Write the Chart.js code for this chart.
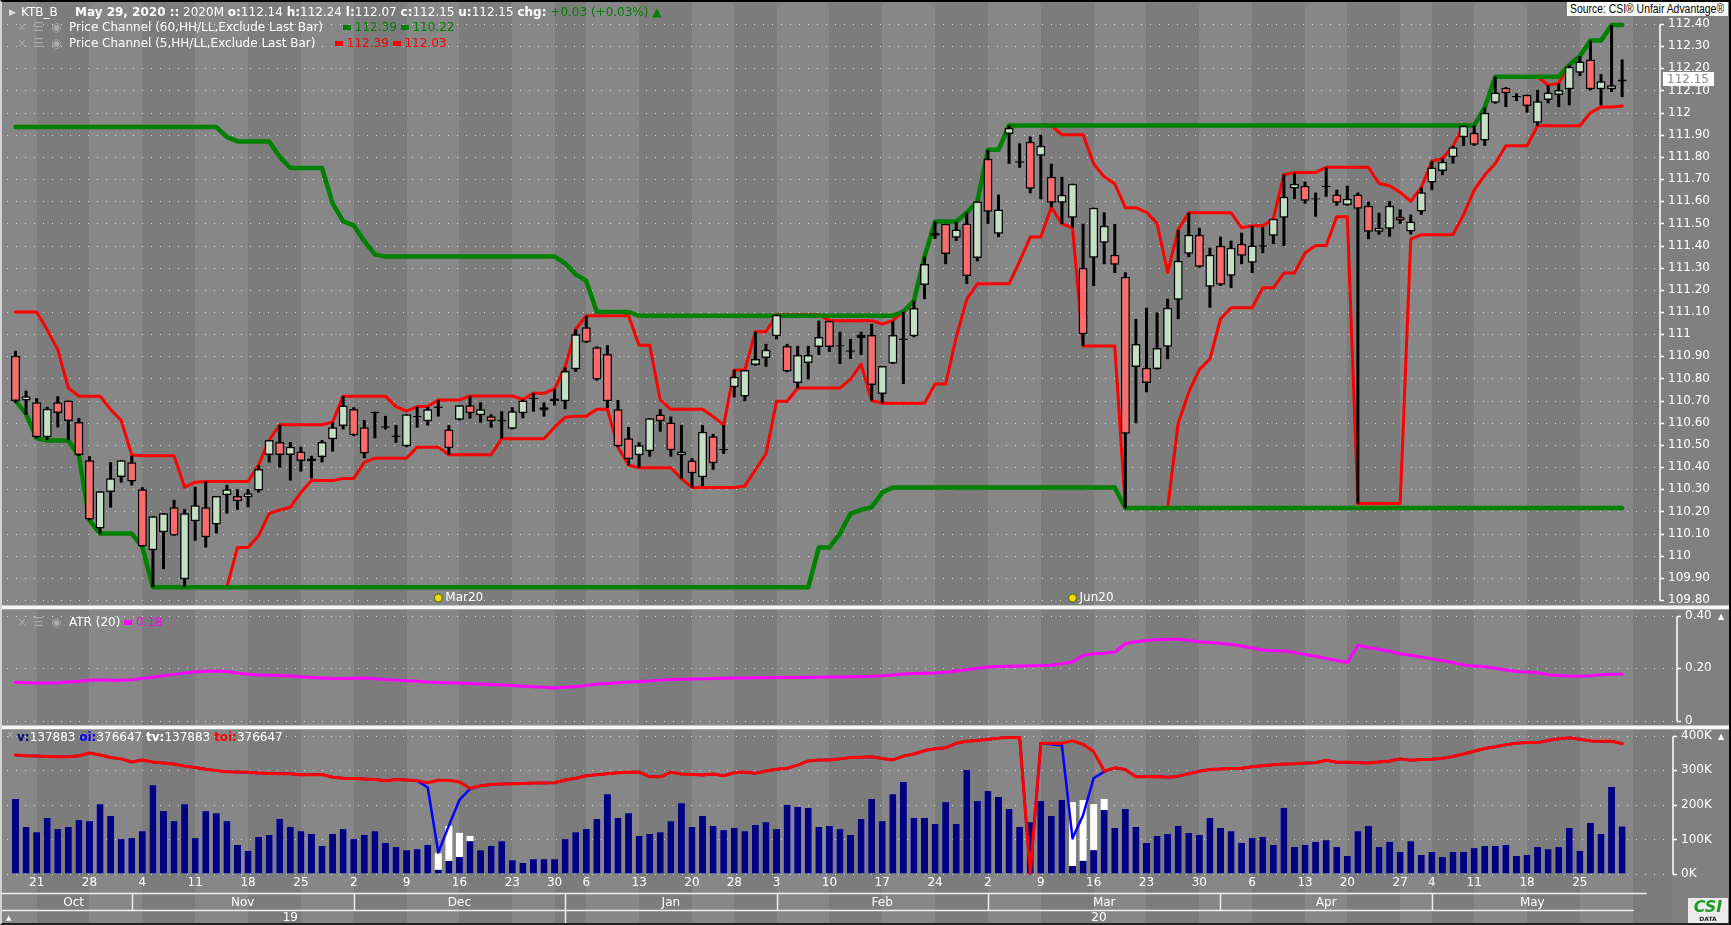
<!DOCTYPE html>
<html>
<head>
<meta charset="utf-8">
<title>KTB_B</title>
<script src="https://cdn.jsdelivr.net/npm/chart.js@4.4.1/dist/chart.umd.min.js"></script>
<style>
 html,body{margin:0;padding:0;background:#808080;}
 #wrap{position:relative;width:1731px;height:925px;overflow:hidden;background:#808080;font-family:'DejaVu Sans',sans-serif;font-size:12px;color:#fff;}
 canvas{position:absolute;left:0;display:block;}
 .sep{position:absolute;left:0;width:1731px;height:5px;background:#f7f7f7;border-top:1px solid #c4c4c4;border-bottom:1px solid #a4a4a4;box-sizing:border-box;}
 .t{position:absolute;white-space:pre;line-height:14px;}
 .ic{color:#a9a9a9;}
 .sw{display:inline-block;width:8px;height:5px;vertical-align:1px;}
 #frame{position:absolute;left:0;top:0;width:1731px;height:925px;box-sizing:border-box;border-top:2px solid #000;border-right:2px solid #000;border-bottom:2px solid #222;border-left:2px solid #d4d4d4;pointer-events:none;}
</style>
</head>
<body>
<div id="wrap">
 <canvas id="cMain" width="1731" height="605" style="top:0;width:1731px;height:605px"></canvas>
 <div class="sep" style="top:605px"></div>
 <canvas id="cAtr" width="1731" height="115" style="top:610px;width:1731px;height:115px"></canvas>
 <div class="sep" style="top:725px"></div>
 <canvas id="cVol" width="1731" height="195" style="top:730px;width:1731px;height:195px"></canvas>

 <div class="t" style="left:9px;top:5px;font-size:9px;color:#e0e0e0">▶</div>
 <div class="t" style="left:21px;top:5px">KTB_B</div>
 <div class="t" style="left:75px;top:5px"><b>May 29, 2020 ::</b> 2020M <b>o:</b>112.14 <b>h:</b>112.24 <b>l:</b>112.07 <b>c:</b>112.15 <b>u:</b>112.15 <b>chg:</b> <span style="color:#008000">+0.03 (+0.03%) ▲</span></div>

 <div class="t ic" style="left:17px;top:20px">×</div>
 <div class="t ic" style="left:33px;top:20px">☰</div>
 <div class="t ic" style="left:51px;top:20px">◉</div>
 <div class="t" style="left:69px;top:20px">Price Channel (60,HH/LL,Exclude Last Bar)</div>
 <div class="t" style="left:343px;top:20px;color:#008000"><span class="sw" style="background:#008000"></span> 112.39 <span class="sw" style="background:#008000"></span> 110.22</div>

 <div class="t ic" style="left:17px;top:36px">×</div>
 <div class="t ic" style="left:33px;top:36px">☰</div>
 <div class="t ic" style="left:51px;top:36px">◉</div>
 <div class="t" style="left:69px;top:36px">Price Channel (5,HH/LL,Exclude Last Bar)</div>
 <div class="t" style="left:335px;top:36px;color:#ff0000"><span class="sw" style="background:#ff0000"></span> 112.39 <span class="sw" style="background:#ff0000"></span> 112.03</div>

 <div class="t" style="left:1567px;top:2px;width:161px;height:14px;background:#fff;color:#000;overflow:hidden"><span style="display:inline-block;font-family:'Liberation Sans',sans-serif;font-size:13px;line-height:14px;transform:scaleX(0.8);transform-origin:0 0;margin-left:3px">Source: CSI® Unfair Advantage®</span></div>

 <div class="t ic" style="left:17px;top:615px">×</div>
 <div class="t ic" style="left:33px;top:615px">☰</div>
 <div class="t ic" style="left:51px;top:615px">◉</div>
 <div class="t" style="left:69px;top:615px">ATR (20) <span style="color:#ff00ff"><span class="sw" style="background:#ff00ff"></span> 0.18</span></div>
 <div class="t" style="left:1718px;top:610px;font-size:8px">▲</div>

 <div class="t ic" style="left:6px;top:728px;font-size:10px">×</div>
 <div class="t" style="left:17px;top:730px"><b style="color:#000080">v:</b>137883 <b style="color:#0000ff">oi:</b>376647 <b>tv:</b>137883 <b style="color:#ff0000">toi:</b>376647</div>
 <div class="t" style="left:1718px;top:730px;font-size:8px">▲</div>

 <div class="t" style="left:6px;top:911px;font-size:7px">▲</div>
 <div style="position:absolute;left:1688px;top:898px;width:40px;height:25px;background:#ececec;text-align:center;font-family:'DejaVu Sans',sans-serif;">
  <div style="color:#1e9a1e;font-weight:bold;font-style:italic;font-size:16px;line-height:17px">CSI</div>
  <div style="color:#222;font-size:6px;line-height:7px;font-weight:bold">DATA</div>
 </div>
 <div id="frame"></div>
</div>

<script>
// ---------------- DATA ----------------
const tradingDays = {
  '2019-10': [17,18,21,22,23,24,25,28,29,30,31],
  '2019-11': [1,4,5,6,7,8,11,12,13,14,15,18,19,20,21,22,25,26,27,28,29],
  '2019-12': [2,3,4,5,6,9,10,11,12,13,16,17,18,19,20,23,24,26,27,30],
  '2020-01': [2,3,6,7,8,9,10,13,14,15,16,17,20,21,22,23,28,29,30,31],
  '2020-02': [3,4,5,6,7,10,11,12,13,14,17,18,19,20,21,24,25,26,27,28],
  '2020-03': [2,3,4,5,6,9,10,11,12,13,16,17,18,19,20,23,24,25,26,27,30,31],
  '2020-04': [1,2,3,6,7,8,9,10,13,14,16,17,20,21,22,23,24,27,28,29],
  '2020-05': [4,6,7,8,11,12,13,14,15,18,19,20,21,22,25,26,27,28,29]
};

const open = [
 110.903,110.70,110.693,110.535,110.693,110.70,110.603,110.431,110.123,110.287,
 110.355,110.422,110.30,110.025,110.106,110.219,109.894,110.156,110.219,110.141,
 110.273,110.269,110.264,110.294,110.454,110.513,110.454,110.47,110.427,110.445,
 110.526,110.585,110.662,110.58,110.643,110.581,110.539,110.494,110.628,110.607,
 110.67,110.57,110.614,110.679,110.634,110.629,110.61,110.573,110.643,110.71,
 110.67,110.698,110.697,110.842,111.031,110.941,110.911,110.661,110.53,110.453,
 110.471,110.637,110.601,110.453,110.43,110.354,110.539,110.479,110.76,110.719,
 110.861,110.892,110.99,110.947,110.779,110.87,110.942,111.06,110.947,110.924,
 110.983,110.996,110.73,110.868,110.977,110.99,111.222,111.444,111.498,111.435,
 111.50,111.344,111.792,111.453,111.904,111.777,111.868,111.805,111.71,111.593,
 111.525,111.30,111.345,111.413,111.358,111.259,110.852,110.848,110.843,110.943,
 111.155,111.363,111.449,111.214,111.399,111.264,111.408,111.322,111.398,111.444,
 111.526,111.657,111.67,111.611,111.667,111.63,111.583,111.63,111.58,111.462,
 111.476,111.53,111.463,111.554,111.685,111.736,111.798,111.889,111.909,111.874,
 112.045,112.112,112.072,112.081,111.954,112.057,112.079,112.105,112.18,112.24,
 112.105,112.105,112.14];
const high = [
 110.925,110.745,110.711,110.672,110.72,110.70,110.621,110.449,110.291,110.422,
 110.431,110.451,110.309,110.178,110.192,110.252,110.21,110.311,110.335,110.269,
 110.32,110.30,110.30,110.409,110.522,110.591,110.513,110.492,110.451,110.522,
 110.603,110.72,110.67,110.612,110.65,110.631,110.59,110.638,110.673,110.671,
 110.703,110.59,110.679,110.721,110.692,110.638,110.652,110.67,110.705,110.733,
 110.692,110.753,110.851,111.022,111.083,110.945,110.95,110.703,110.581,110.512,
 110.62,110.661,110.628,110.59,110.44,110.59,110.55,110.59,110.838,110.838,
 111.011,110.956,111.088,110.956,110.947,110.947,111.061,111.06,111.011,110.978,
 111.011,111.046,110.856,111.061,111.102,111.151,111.35,111.508,111.498,111.508,
 111.549,111.599,111.832,111.63,111.942,111.861,111.892,111.90,111.769,111.71,
 111.679,111.498,111.571,111.55,111.498,111.279,111.069,111.119,111.098,111.16,
 111.471,111.548,111.48,111.39,111.44,111.422,111.458,111.489,111.483,111.521,
 111.72,111.73,111.688,111.639,111.753,111.652,111.67,111.639,111.598,111.548,
 111.60,111.563,111.54,111.662,111.781,111.793,111.85,111.941,111.942,112.022,
 112.162,112.115,112.087,112.081,112.102,112.124,112.132,112.215,112.255,112.325,
 112.174,112.395,112.24];
const low = [
 110.69,110.635,110.53,110.52,110.579,110.52,110.45,110.16,110.10,110.217,
 110.33,110.317,110.04,109.858,109.939,110.09,109.858,110.068,110.037,110.10,
 110.19,110.207,110.219,110.285,110.421,110.398,110.339,110.38,110.349,110.421,
 110.47,110.57,110.54,110.44,110.53,110.57,110.51,110.49,110.578,110.587,
 110.628,110.456,110.61,110.619,110.601,110.578,110.528,110.57,110.62,110.65,
 110.628,110.678,110.661,110.83,110.96,110.79,110.667,110.49,110.408,110.397,
 110.447,110.56,110.447,110.348,110.308,110.314,110.388,110.459,110.715,110.697,
 110.858,110.853,110.977,110.828,110.757,110.796,110.906,110.92,110.865,110.888,
 110.906,110.70,110.688,110.865,110.775,110.986,111.158,111.43,111.316,111.421,
 111.227,111.329,111.498,111.438,111.769,111.751,111.636,111.609,111.573,111.498,
 111.48,110.946,111.217,111.316,111.276,110.215,110.598,110.738,110.84,110.887,
 111.068,111.348,111.30,111.119,111.218,111.209,111.316,111.276,111.366,111.407,
 111.398,111.61,111.589,111.53,111.62,111.58,111.58,110.236,111.429,111.449,
 111.44,111.498,111.45,111.539,111.65,111.718,111.77,111.85,111.85,111.85,
 112.04,112.025,112.052,112.0,111.941,112.042,112.025,112.033,112.165,112.10,
 112.033,112.093,112.07];
const close = [
 110.698,110.72,110.535,110.663,110.644,110.608,110.454,110.163,110.291,110.35,
 110.431,110.335,110.041,110.178,110.192,110.091,110.192,110.228,110.083,110.269,
 110.30,110.246,110.282,110.391,110.522,110.454,110.492,110.427,110.439,110.513,
 110.58,110.678,110.544,110.461,110.65,110.581,110.539,110.638,110.628,110.661,
 110.67,110.485,110.679,110.643,110.661,110.607,110.61,110.652,110.701,110.71,
 110.656,110.71,110.834,111.0,110.964,110.795,110.697,110.494,110.435,110.498,
 110.62,110.607,110.476,110.47,110.372,110.56,110.417,110.479,110.808,110.838,
 110.888,110.93,111.088,110.832,110.906,110.906,110.987,110.942,110.947,110.924,
 110.996,110.77,110.856,110.996,110.977,111.118,111.317,111.457,111.362,111.472,
 111.263,111.599,111.552,111.563,111.932,111.777,111.656,111.85,111.593,111.629,
 111.679,111.0,111.571,111.489,111.313,110.551,110.956,110.78,110.938,111.119,
 111.331,111.449,111.304,111.358,111.223,111.39,111.354,111.40,111.398,111.521,
 111.62,111.679,111.602,111.611,111.667,111.593,111.611,111.566,111.462,111.48,
 111.58,111.513,111.508,111.64,111.752,111.778,111.844,111.941,111.855,111.999,
 112.091,112.087,112.072,112.03,112.051,112.091,112.102,112.207,112.231,112.105,
 112.142,112.124,112.15];

// Price Channel (60) upper / lower as drawn
const chan60Hi = [
 111.935,111.935,111.935,111.935,111.935,111.935,111.935,111.935,111.935,111.935,
 111.935,111.935,111.935,111.935,111.935,111.935,111.935,111.935,111.935,111.935,
 111.89,111.87,111.87,111.87,111.87,111.80,111.75,111.75,111.75,111.75,
 111.59,111.51,111.49,111.42,111.36,111.35,111.35,111.35,111.35,111.35,
 111.35,111.35,111.35,111.35,111.35,111.35,111.35,111.35,111.35,111.35,
 111.35,111.35,111.32,111.27,111.24,111.10,111.10,111.10,111.10,111.083,
 111.083,111.083,111.083,111.083,111.083,111.083,111.083,111.083,111.083,111.083,
 111.083,111.083,111.083,111.083,111.083,111.083,111.083,111.083,111.083,111.083,
 111.083,111.083,111.083,111.083,111.102,111.151,111.35,111.508,111.508,111.508,
 111.549,111.599,111.832,111.832,111.942,111.942,111.942,111.942,111.942,111.942,
 111.942,111.942,111.942,111.942,111.942,111.942,111.942,111.942,111.942,111.942,
 111.942,111.942,111.942,111.942,111.942,111.942,111.942,111.942,111.942,111.942,
 111.942,111.942,111.942,111.942,111.942,111.942,111.942,111.942,111.942,111.942,
 111.942,111.942,111.942,111.942,111.942,111.942,111.942,111.942,111.942,112.022,
 112.162,112.162,112.162,112.162,112.162,112.162,112.162,112.215,112.255,112.325,
 112.325,112.395,112.395];
const chan60Lo = [
 110.70,110.64,110.53,110.52,110.52,110.52,110.45,110.16,110.10,110.10,
 110.10,110.10,110.04,109.858,109.858,109.858,109.858,109.858,109.858,109.858,
 109.858,109.858,109.858,109.858,109.858,109.858,109.858,109.858,109.858,109.858,
 109.858,109.858,109.858,109.858,109.858,109.858,109.858,109.858,109.858,109.858,
 109.858,109.858,109.858,109.858,109.858,109.858,109.858,109.858,109.858,109.858,
 109.858,109.858,109.858,109.858,109.858,109.858,109.858,109.858,109.858,109.858,
 109.858,109.858,109.858,109.858,109.858,109.858,109.858,109.858,109.858,109.858,
 109.858,109.858,109.858,109.858,109.858,109.858,110.037,110.037,110.10,110.19,
 110.207,110.219,110.285,110.308,110.308,110.308,110.308,110.308,110.308,110.308,
 110.308,110.308,110.308,110.308,110.308,110.308,110.308,110.308,110.308,110.308,
 110.308,110.308,110.308,110.308,110.308,110.215,110.215,110.215,110.215,110.215,
 110.215,110.215,110.215,110.215,110.215,110.215,110.215,110.215,110.215,110.215,
 110.215,110.215,110.215,110.215,110.215,110.215,110.215,110.215,110.215,110.215,
 110.215,110.215,110.215,110.215,110.215,110.215,110.215,110.215,110.215,110.215,
 110.215,110.215,110.215,110.215,110.215,110.215,110.215,110.215,110.215,110.215,
 110.215,110.215,110.215];
// Price Channel (5) upper / lower as drawn
const chan5Hi = [
 111.10,111.10,111.10,111.02,110.93,110.757,110.72,110.72,110.72,110.66,
 110.61,110.454,110.451,110.451,110.451,110.451,110.31,110.332,110.335,110.335,
 110.335,110.335,110.335,110.409,110.522,110.591,110.591,110.591,110.591,110.591,
 110.603,110.72,110.72,110.72,110.72,110.72,110.673,110.653,110.673,110.673,
 110.703,110.703,110.703,110.721,110.721,110.721,110.721,110.721,110.705,110.733,
 110.733,110.753,110.851,111.022,111.083,111.083,111.083,111.083,111.083,110.95,
 110.95,110.703,110.661,110.661,110.661,110.661,110.628,110.59,110.838,110.838,
 111.011,111.011,111.088,111.088,111.088,111.088,111.088,111.061,111.061,111.061,
 111.061,111.061,111.046,111.061,111.102,111.151,111.35,111.508,111.508,111.508,
 111.549,111.599,111.832,111.832,111.942,111.942,111.942,111.942,111.942,111.90,
 111.90,111.90,111.769,111.71,111.679,111.571,111.571,111.55,111.50,111.279,
 111.471,111.548,111.548,111.548,111.548,111.548,111.48,111.489,111.489,111.521,
 111.72,111.73,111.73,111.73,111.753,111.753,111.753,111.753,111.753,111.68,
 111.67,111.64,111.60,111.662,111.781,111.793,111.85,111.941,111.942,112.022,
 112.162,112.162,112.162,112.162,112.162,112.124,112.132,112.215,112.255,112.325,
 112.325,112.395,112.395];
const chan5Lo = [
 110.70,110.64,110.53,110.52,110.52,110.52,110.45,110.16,110.10,110.10,
 110.10,110.10,110.04,109.858,109.858,109.858,109.858,109.858,109.858,109.858,
 109.858,110.037,110.037,110.09,110.19,110.207,110.219,110.285,110.339,110.339,
 110.339,110.349,110.349,110.421,110.44,110.44,110.44,110.44,110.49,110.49,
 110.49,110.456,110.456,110.456,110.456,110.456,110.528,110.528,110.528,110.528,
 110.528,110.58,110.625,110.63,110.63,110.661,110.661,110.49,110.408,110.397,
 110.397,110.397,110.397,110.348,110.308,110.308,110.308,110.308,110.308,110.314,
 110.388,110.459,110.697,110.697,110.757,110.757,110.757,110.757,110.757,110.796,
 110.865,110.70,110.688,110.688,110.688,110.688,110.688,110.775,110.775,110.986,
 111.158,111.227,111.227,111.227,111.227,111.329,111.438,111.438,111.573,111.498,
 111.48,110.946,110.946,110.946,110.946,110.215,110.215,110.215,110.215,110.215,
 110.598,110.738,110.84,110.887,111.068,111.119,111.119,111.119,111.209,111.209,
 111.276,111.276,111.366,111.40,111.40,111.53,111.53,110.236,110.236,110.236,
 110.236,110.236,111.429,111.449,111.449,111.449,111.45,111.539,111.65,111.718,
 111.77,111.85,111.85,111.85,111.941,111.941,111.941,111.941,111.941,112.0,
 112.025,112.025,112.03];

// ATR(20)
const atr20 = [
 0.147,0.145,0.144,0.144,0.145,0.148,0.151,0.155,0.156,0.155,
 0.155,0.156,0.162,0.166,0.172,0.177,0.182,0.186,0.189,0.19,
 0.188,0.182,0.177,0.175,0.174,0.173,0.171,0.168,0.165,0.163,
 0.161,0.161,0.162,0.163,0.16,0.157,0.155,0.153,0.151,0.148,
 0.146,0.145,0.144,0.142,0.14,0.138,0.136,0.134,0.132,0.13,
 0.128,0.125,0.128,0.131,0.134,0.14,0.142,0.145,0.148,0.15,
 0.152,0.155,0.157,0.158,0.159,0.16,0.161,0.162,0.163,0.163,
 0.164,0.164,0.165,0.165,0.165,0.166,0.166,0.167,0.167,0.168,
 0.168,0.17,0.172,0.175,0.178,0.18,0.181,0.182,0.185,0.19,
 0.195,0.2,0.205,0.207,0.208,0.209,0.21,0.211,0.212,0.218,
 0.224,0.25,0.256,0.258,0.262,0.295,0.302,0.306,0.309,0.311,
 0.311,0.306,0.302,0.299,0.296,0.291,0.285,0.278,0.27,0.267,
 0.266,0.261,0.253,0.246,0.238,0.23,0.222,0.288,0.28,0.273,
 0.265,0.256,0.25,0.243,0.237,0.229,0.222,0.213,0.209,0.206,
 0.2,0.194,0.188,0.186,0.183,0.176,0.173,0.171,0.17,0.172,
 0.176,0.177,0.177];

// Volume (thousands): front contract v, total tv
const volume = [
 217,136,121,162,130,136,156,153,202,168,
 101,104,124,257,182,153,202,104,182,176,
 153,84,67,107,113,159,136,124,116,81,
 116,130,101,113,124,90,78,69,72,84,
 12,38,49,95,69,81,95,40,32,43,
 43,43,101,121,130,159,231,162,176,110,
 116,121,153,205,136,168,139,127,133,124,
 142,150,130,200,194,191,136,139,130,113,
 159,217,153,231,266,162,162,145,208,145,
 301,211,240,223,188,136,150,211,168,214,
 23,38,69,185,133,188,136,90,110,116,
 139,119,113,162,133,124,90,104,107,84,
 191,78,84,93,98,78,52,124,139,78,
 93,64,95,55,64,49,64,64,75,81,
 81,84,52,55,78,72,78,133,67,148,
 116,252,138];
const totalVolume = [
 217,136,121,162,130,136,156,153,202,168,
 101,104,124,257,182,153,202,104,182,176,
 153,84,67,107,113,159,136,124,116,81,
 116,130,101,113,124,90,78,69,72,84,
 60,139,119,110,69,81,95,40,32,43,
 43,43,101,121,130,159,231,162,176,110,
 116,121,153,205,136,168,139,127,133,124,
 142,150,130,200,194,191,136,139,130,113,
 159,217,153,231,266,162,162,145,208,145,
 301,211,240,223,188,136,150,211,168,214,
 208,214,202,217,133,188,136,90,110,116,
 139,119,113,162,133,124,90,104,107,84,
 191,78,84,93,98,78,52,124,139,78,
 93,64,95,55,64,49,64,64,75,81,
 81,84,52,55,78,72,78,133,67,148,
 116,252,138];
// Open interest (thousands): front contract oi (blue), total toi (red)
const totalOI = [
 344,342,341,340,339,339,342,350,344,337,
 333,324,330,324,321,318,312,308,303,299,
 296,295,294,292,291,290,290,287,287,288,
 280,277,276,275,273,270,273,272,270,264,
 271,271,266,248,255,259,260,261,262,263,
 263,264,272,277,284,287,290,293,294,295,
 281,281,294,289,288,286,289,284,293,295,
 291,298,303,306,315,327,330,330,333,337,
 338,339,334,330,341,347,357,362,365,378,
 384,386,390,393,395,395,2,378,378,378,
 385,375,354,298,307,302,281,281,282,280,
 283,290,297,302,304,305,306,310,313,316,
 318,319,321,322,329,323,323,322,321,324,
 327,333,329,331,332,335,340,347,355,363,
 368,374,378,380,380,386,391,394,390,385,
 384,384,377];
const openInterest = [
 344,342,341,340,339,339,342,350,344,337,
 333,324,330,324,321,318,312,308,303,299,
 296,295,294,292,291,290,290,287,287,288,
 280,277,276,275,273,270,273,272,270,250,
 62,140,214,246,255,259,260,261,262,263,
 263,264,272,277,284,287,290,293,294,295,
 281,281,294,289,288,286,289,284,293,295,
 291,298,303,306,315,327,330,330,333,337,
 338,339,334,330,341,347,357,362,365,378,
 384,386,390,393,395,395,2,378,375,372,
 103,170,277,296,307,302,281,281,282,280,
 283,290,297,302,304,305,306,310,313,316,
 318,319,321,322,329,323,323,322,321,324,
 327,333,329,331,332,335,340,347,355,363,
 368,374,378,380,380,386,391,394,390,385,
 384,384,377];

// Axis ticks and annotations
const priceTicks = [109.8,109.9,110,110.1,110.2,110.3,110.4,110.5,110.6,110.7,110.8,110.9,111,
  111.1,111.2,111.3,111.4,111.5,111.6,111.7,111.8,111.9,112,112.1,112.2,112.3,112.4];
const atrTicks = [0, 0.2, 0.4];
const volTicks = [0, 100, 200, 300, 400];
const rollBars = [40, 100];
const rollLabels = ['Mar20', 'Jun20'];
const MONTH_ABBR = ['Jan','Feb','Mar','Apr','May','Jun','Jul','Aug','Sep','Oct','Nov','Dec'];

// ---------------- DERIVED LAYOUT HELPERS ----------------
const dates = [];
Object.keys(tradingDays).forEach(k => {
  const [y, m] = k.split('-').map(Number);
  tradingDays[k].forEach(d => dates.push({y, m, d}));
});
const N = dates.length;
const weekId = dates.map(o => Math.floor((Date.UTC(o.y, o.m - 1, o.d) / 86400000 + 3) / 7));
const weekStarts = [], monthStarts = [], yearStarts = [];
dates.forEach((o, i) => {
  if (i === 0 || weekId[i] !== weekId[i - 1]) weekStarts.push(i);
  if (i === 0 || o.m !== dates[i - 1].m) monthStarts.push(i);
  if (i === 0 || o.y !== dates[i - 1].y) yearStarts.push(i);
});
const lastWeek = weekId[N - 1];

const X0 = 15.5, STEP = 10.57;   // pixel of first bar centre, bar spacing
const xMinFor = left => (left - X0) / STEP;
const xMaxFor = right => (right - X0) / STEP;
const FONT = 'DejaVu Sans';
const LIGHT = 'rgb(135,135,135)', DARK = 'rgb(124,124,124)';

const bandsPlugin = {
  id: 'bands',
  beforeDraw(chart) {
    const {ctx, chartArea: a, width, height} = chart;
    const xs = chart.scales.x;
    ctx.save();
    ctx.fillStyle = '#808080';
    ctx.fillRect(0, 0, width, height);
    for (let k = 0; k < weekStarts.length; k++) {
      const x1 = k === 0 ? a.left : xs.getPixelForValue(weekStarts[k]);
      const x2 = k + 1 < weekStarts.length ? xs.getPixelForValue(weekStarts[k + 1]) : xs.getPixelForValue(N);
      ctx.fillStyle = ((lastWeek - weekId[weekStarts[k]]) % 2 === 0) ? LIGHT : DARK;
      ctx.fillRect(Math.round(x1), 0, Math.round(x2) - Math.round(x1), height);
    }
    ctx.fillStyle = DARK;
    const xe = Math.round(xs.getPixelForValue(N));
    ctx.fillRect(xe, 0, Math.round(a.right) - xe, height);
    ctx.restore();
  }
};

const dotGridPlugin = {
  id: 'dotGrid',
  beforeDatasetsDraw(chart) {
    const {ctx, chartArea: a} = chart;
    const ys = chart.scales.y;
    ctx.save();
    ctx.strokeStyle = 'rgba(225,225,225,0.9)';
    ctx.lineWidth = 1;
    ctx.setLineDash([1, 8]);
    ys.ticks.forEach(t => {
      const y = Math.round(ys.getPixelForValue(t.value)) + 0.5;
      ctx.beginPath(); ctx.moveTo(a.left + 5, y); ctx.lineTo(a.right, y); ctx.stroke();
    });
    ctx.restore();
  }
};

const yAxisPlugin = {
  id: 'yAxisDeco',
  afterDraw(chart) {
    const {ctx, chartArea: a} = chart;
    const ys = chart.scales.y;
    const ps = ys.ticks.map(t => Math.round(ys.getPixelForValue(t.value)) + 0.5);
    const top = Math.min(...ps), bot = Math.max(...ps);
    ctx.save();
    ctx.strokeStyle = '#ffffff';
    ctx.lineWidth = 1.5;
    ctx.beginPath();
    ctx.moveTo(a.right + 1, top); ctx.lineTo(a.right + 1, bot);
    ps.forEach(p => { ctx.moveTo(a.right + 1, p); ctx.lineTo(a.right + 5, p); });
    ctx.stroke();
    ctx.restore();
  }
};

const markersPlugin = {
  id: 'markers',
  afterDraw(chart) {
    const {ctx, chartArea: a} = chart;
    const xs = chart.scales.x, ys = chart.scales.y;
    ctx.save();
    rollBars.forEach((b, k) => {
      const x = xs.getPixelForValue(b), y = a.bottom - 5;
      ctx.beginPath(); ctx.arc(x, y, 4, 0, Math.PI * 2);
      ctx.fillStyle = '#ffd400'; ctx.fill();
      ctx.lineWidth = 1; ctx.strokeStyle = '#2f7d00'; ctx.stroke();
      ctx.fillStyle = '#ffffff'; ctx.font = '12px ' + FONT;
      ctx.textAlign = 'left'; ctx.textBaseline = 'middle';
      ctx.fillText(rollLabels[k], x + 7, y);
    });
    // last price tag
    const py = ys.getPixelForValue(close[N - 1]);
    ctx.fillStyle = '#ffffff';
    ctx.fillRect(a.right + 4, Math.round(py) - 7, 51, 14);
    ctx.fillStyle = '#8a8a8a'; ctx.font = '12px ' + FONT;
    ctx.textAlign = 'left'; ctx.textBaseline = 'middle';
    ctx.fillText(close[N - 1].toFixed(2), a.right + 8, py + 0.5);
    ctx.restore();
  }
};

const dateRowsPlugin = {
  id: 'dateRows',
  afterDraw(chart) {
    const {ctx, chartArea: a, height} = chart;
    const xs = chart.scales.x;
    const px = v => xs.getPixelForValue(v);
    const y1 = a.bottom + 17.5, y2 = a.bottom + 34.5;
    ctx.save();
    ctx.strokeStyle = '#eeeeee'; ctx.lineWidth = 1.5;
    ctx.beginPath();
    ctx.moveTo(2, y1); ctx.lineTo(px(N) + 14, y1);
    ctx.moveTo(2, y2); ctx.lineTo(px(N) + 1, y2);
    monthStarts.forEach(i => {
      if (i === 0) return;
      const x = Math.round(px(i)) + 0.5;
      ctx.moveTo(x, y1); ctx.lineTo(x, yearStarts.includes(i) ? height : y2);
    });
    ctx.stroke();
    ctx.fillStyle = '#ffffff'; ctx.font = '12px ' + FONT;
    ctx.textAlign = 'center'; ctx.textBaseline = 'middle';
    // day numbers (first trading day of each week)
    weekStarts.slice(1).forEach(i => ctx.fillText(String(dates[i].d), px(i), a.bottom + 7));
    monthStarts.forEach((s, k) => {
      const e = k + 1 < monthStarts.length ? monthStarts[k + 1] : N;
      ctx.fillText(MONTH_ABBR[dates[s].m - 1], (px(s) + px(e)) / 2, (y1 + y2) / 2 + 0.5);
    });
    yearStarts.forEach((s, k) => {
      const e = k + 1 < yearStarts.length ? yearStarts[k + 1] : N;
      ctx.fillText(String(dates[s].y % 100), (px(s) + px(e)) / 2, (y2 + height) / 2 + 0.5);
    });
    ctx.restore();
  }
};

function yScale(min, max, ticks, fmt, width) {
  return {
    position: 'right', min, max,
    grid: {display: true, drawOnChartArea: false, drawTicks: true, tickLength: 9,
      color: 'rgba(0,0,0,0)', tickColor: 'rgba(0,0,0,0)'},
    border: {display: false},
    afterBuildTicks: s => { s.ticks = ticks.map(v => ({value: v})); },
    afterFit: s => { s.width = width; },
    ticks: {color: '#ffffff', font: {family: FONT, size: 12, lineHeight: 0}, padding: 0,
      autoSkip: false, callback: fmt}
  };
}
const common = {
  responsive: false, animation: false, devicePixelRatio: 1, events: [],
  plugins: {legend: {display: false}, tooltip: {enabled: false}}
};

// ---------------- MAIN PRICE CHART ----------------
const bodies = open.map((o, i) => {
  const c = close[i];
  if (Math.abs(c - o) < 0.004) { const m = (o + c) / 2; return {x: i, y: [m - 0.003, m + 0.003]}; }
  return {x: i, y: [Math.min(o, c), Math.max(o, c)]};
});
const bodyColors = open.map((o, i) => Math.abs(close[i] - o) < 0.004 ? '#000000' : (close[i] > o ? '#c4dfc4' : '#ff6b6b'));
const wicks = high.map((h, i) => ({x: i, y: [low[i], h]}));
const pts = arr => arr.map((v, i) => ({x: i, y: v}));
const lineDs = (arr, color, w, order) => ({type: 'line', data: pts(arr), borderColor: color, borderWidth: w,
  pointRadius: 0, tension: 0, fill: false, order, borderJoinStyle: 'round', borderCapStyle: 'round'});

new Chart(document.getElementById('cMain'), {
  type: 'bar',
  data: {datasets: [
    {type: 'bar', data: bodies, backgroundColor: bodyColors, borderColor: '#000', borderWidth: 1.5,
      borderSkipped: false, barThickness: 9, grouped: false, inflateAmount: 0, order: 1},
    {type: 'bar', data: wicks, backgroundColor: '#000', borderWidth: 0, barThickness: 3,
      grouped: false, inflateAmount: 0, order: 2},
    lineDs(chan60Hi, '#008000', 4.5, 3),
    lineDs(chan60Lo, '#008000', 4.5, 3),
    lineDs(chan5Hi, '#ff0000', 3, 4),
    lineDs(chan5Lo, '#ff0000', 3, 4)
  ]},
  options: Object.assign({}, common, {
    layout: {padding: {left: 2, top: 2, bottom: 2, right: 0}},
    scales: {
      x: {type: 'linear', display: false, offset: false, min: xMinFor(2), max: xMaxFor(1659)},
      y: yScale(109.7865, 112.4993, priceTicks,
        v => Math.abs(v - Math.round(v)) < 1e-6 ? String(Math.round(v)) : v.toFixed(2), 72)
    }
  }),
  plugins: [bandsPlugin, dotGridPlugin, yAxisPlugin, markersPlugin]
});

// ---------------- ATR CHART ----------------
new Chart(document.getElementById('cAtr'), {
  type: 'line',
  data: {datasets: [lineDs(atr20, '#ff00ff', 3, 1)]},
  options: Object.assign({}, common, {
    layout: {padding: {left: 2, top: 1, bottom: 2, right: 0}},
    scales: {
      x: {type: 'linear', display: false, offset: false, min: xMinFor(2), max: xMaxFor(1676)},
      y: yScale(-0.0088, 0.4191, atrTicks, v => v === 0 ? '0' : v.toFixed(2), 55)
    }
  }),
  plugins: [bandsPlugin, dotGridPlugin, yAxisPlugin]
});

// ---------------- VOLUME / OI CHART ----------------
new Chart(document.getElementById('cVol'), {
  type: 'bar',
  data: {datasets: [
    {type: 'bar', data: pts(volume), backgroundColor: '#000080', borderWidth: 0, barThickness: 7,
      grouped: false, inflateAmount: 0, order: 3},
    {type: 'bar', data: pts(totalVolume), backgroundColor: '#ffffff', borderWidth: 0, barThickness: 7,
      grouped: false, inflateAmount: 0, order: 4},
    lineDs(openInterest, '#0000ff', 2.5, 2),
    lineDs(totalOI, '#ff0000', 3, 1)
  ]},
  options: Object.assign({}, common, {
    layout: {padding: {left: 2, top: 1, bottom: 49, right: 0}},
    scales: {
      x: {type: 'linear', display: false, offset: false, min: xMinFor(2), max: xMaxFor(1672)},
      y: yScale(-5.8, 413.6, volTicks, v => v + 'K', 59)
    }
  }),
  plugins: [bandsPlugin, dotGridPlugin, yAxisPlugin, dateRowsPlugin]
});
</script>
</body>
</html>
